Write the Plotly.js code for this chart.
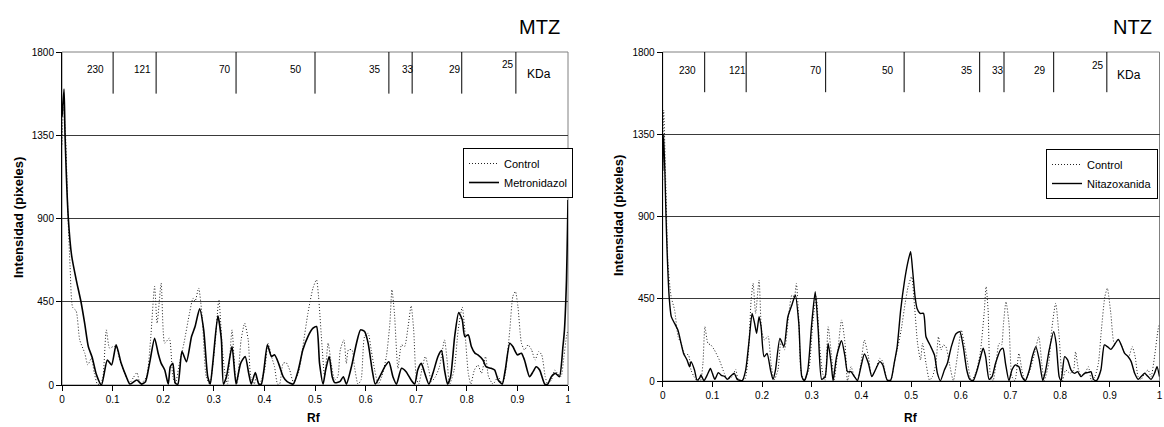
<!DOCTYPE html>
<html><head><meta charset="utf-8">
<script src="https://cdn.plot.ly/plotly-3.0.1.min.js"></script>
<style>html,body{margin:0;padding:0;background:#fff}#chart{width:1164px;height:427px}</style>
</head><body><div id="chart"></div>
<script>
// ---- Data ----
const mtzCtrlRf = [0,0.003,0.007,0.012,0.016,0.021,0.028,0.035,0.045,0.051,0.058,0.064,0.070,0.076,0.081,0.0876,0.094,0.101,0.107,0.114,0.124,0.134,0.141,0.148,0.155,0.167,0.175,0.183,0.188,0.196,0.203,0.212,0.219,0.224,0.232,0.241,0.252,0.259,0.263,0.270,0.277,0.285,0.292,0.302,0.310,0.317,0.322,0.327,0.336,0.342,0.346,0.354,0.361,0.368,0.373,0.380,0.384,0.390,0.4005,0.407,0.414,0.420,0.426,0.430,0.437,0.443,0.450,0.457,0.467,0.476,0.486,0.496,0.503,0.507,0.514,0.519,0.526,0.532,0.539,0.545,0.550,0.557,0.562,0.566,0.573,0.578,0.585,0.591,0.598,0.605,0.611,0.618,0.625,0.632,0.641,0.648,0.652,0.657,0.664,0.671,0.677,0.684,0.690,0.695,0.700,0.705,0.711,0.718,0.725,0.730,0.738,0.746,0.756,0.761,0.766,0.775,0.783,0.791,0.796,0.803,0.808,0.815,0.822,0.829,0.837,0.843,0.852,0.862,0.870,0.876,0.885,0.891,0.896,0.901,0.908,0.914,0.921,0.928,0.935,0.942,0.948,0.955,0.960,0.967,0.974,0.979,0.986,0.992,0.997,1.0];
const mtzCtrlVal = [1300,1500,1350,900,640,420,400,244,172,108,145,63,5,5,45,298,199,208,208,135,63,13,40,67,5,45,244,533,334,551,226,253,45,5,117,226,388,470,452,524,370,45,5,208,461,190,63,5,298,63,5,244,334,244,45,5,45,5,81,226,154,99,5,5,117,121,81,18,63,208,388,524,569,479,208,45,226,117,27,45,190,244,117,190,190,99,5,27,262,280,190,81,5,45,154,334,515,388,90,217,208,316,428,298,45,5,81,154,81,18,45,99,244,135,5,81,298,421,298,63,5,81,108,63,154,45,5,45,5,63,298,479,506,425,226,190,217,190,135,181,163,45,5,27,81,63,45,154,262,298];

const mtzRf = [0,0.004,0.006,0.0125,0.019,0.028,0.0375,0.045,0.052,0.060,0.068,0.078,0.0896,0.098,0.107,0.117,0.127,0.134,0.148,0.157,0.165,0.173,0.183,0.190,0.196,0.203,0.210,0.214,0.219,0.224,0.229,0.237,0.246,0.256,0.263,0.272,0.280,0.288,0.293,0.298,0.308,0.315,0.319,0.325,0.336,0.344,0.353,0.362,0.369,0.374,0.382,0.389,0.394,0.399,0.406,0.414,0.420,0.428,0.437,0.445,0.457,0.467,0.476,0.486,0.496,0.503,0.509,0.516,0.521,0.528,0.534,0.539,0.549,0.556,0.562,0.572,0.582,0.590,0.598,0.605,0.613,0.619,0.628,0.638,0.646,0.654,0.661,0.671,0.680,0.690,0.697,0.703,0.710,0.717,0.725,0.733,0.743,0.750,0.756,0.762,0.768,0.776,0.784,0.791,0.796,0.803,0.809,0.816,0.822,0.832,0.838,0.848,0.855,0.862,0.870,0.876,0.885,0.891,0.900,0.908,0.914,0.924,0.931,0.937,0.944,0.954,0.960,0.967,0.975,0.983,0.990,0.993,0.997,0.999,1.0];
const mtzVal = [1450,1600,1350,900,700,570,450,330,208,146,56,0,135,108,217,117,45,5,27,5,18,117,253,172,117,81,5,99,117,9,5,181,126,262,316,412,298,45,5,117,374,244,5,45,208,5,117,154,63,5,67,5,5,81,217,154,163,117,45,18,5,81,190,262,307,316,117,5,81,154,45,13,18,45,5,99,226,298,289,226,81,5,45,99,126,45,5,90,72,27,5,81,117,63,5,63,154,186,81,5,45,262,392,352,262,271,208,172,163,135,99,90,81,27,5,81,226,208,163,172,135,45,72,99,81,5,5,45,63,45,208,298,569,840,1000];

const ntzCtrlRf = [0,0.002,0.006,0.0106,0.017,0.024,0.031,0.037,0.044,0.052,0.057,0.063,0.069,0.076,0.081,0.085,0.091,0.097,0.104,0.114,0.124,0.130,0.140,0.147,0.152,0.165,0.172,0.178,0.182,0.187,0.194,0.199,0.205,0.212,0.218,0.224,0.232,0.238,0.245,0.254,0.260,0.265,0.269,0.274,0.278,0.284,0.294,0.302,0.309,0.316,0.322,0.327,0.333,0.340,0.345,0.352,0.360,0.367,0.372,0.379,0.386,0.392,0.399,0.406,0.414,0.421,0.428,0.437,0.443,0.452,0.459,0.466,0.472,0.480,0.488,0.494,0.501,0.507,0.513,0.519,0.523,0.530,0.537,0.543,0.550,0.555,0.560,0.565,0.570,0.577,0.585,0.593,0.601,0.608,0.614,0.621,0.630,0.639,0.647,0.651,0.655,0.660,0.665,0.671,0.677,0.682,0.686,0.691,0.697,0.703,0.709,0.717,0.723,0.729,0.737,0.747,0.757,0.763,0.768,0.777,0.783,0.791,0.798,0.805,0.811,0.820,0.827,0.831,0.837,0.843,0.850,0.857,0.863,0.870,0.877,0.883,0.890,0.895,0.902,0.909,0.917,0.923,0.930,0.938,0.945,0.951,0.957,0.963,0.970,0.977,0.983,0.990,0.997,1.0];
const ntzCtrlVal = [1100,1482,1100,643,461,388,242,206,151,142,60,24,2,2,97,297,206,197,170,115,42,9,24,64,9,9,133,443,534,370,552,279,224,246,97,5,60,215,170,370,470,461,534,334,60,2,60,315,461,188,42,5,297,133,5,151,334,206,2,78,24,5,97,224,133,24,60,124,106,5,2,97,170,279,425,516,570,406,206,115,206,97,5,24,97,242,170,197,188,97,2,133,279,188,97,2,42,151,370,516,388,24,2,97,206,197,315,434,315,24,2,151,60,2,42,133,242,97,2,97,279,425,242,2,60,42,60,160,60,24,42,78,2,24,97,279,461,507,370,206,224,197,151,133,188,133,24,9,42,60,24,133,279,315];

const ntzRf = [0,0.002,0.0067,0.009,0.013,0.0173,0.024,0.0306,0.037,0.042,0.049,0.054,0.057,0.064,0.069,0.074,0.077,0.083,0.0905,0.096,0.100,0.105,0.112,0.118,0.125,0.130,0.136,0.144,0.150,0.160,0.167,0.174,0.180,0.185,0.189,0.194,0.198,0.204,0.210,0.217,0.222,0.227,0.236,0.244,0.252,0.260,0.267,0.274,0.280,0.285,0.292,0.300,0.307,0.313,0.320,0.327,0.333,0.339,0.343,0.350,0.360,0.367,0.372,0.379,0.386,0.392,0.399,0.406,0.414,0.421,0.428,0.437,0.443,0.452,0.459,0.466,0.472,0.479,0.487,0.493,0.499,0.503,0.508,0.512,0.518,0.525,0.530,0.538,0.547,0.553,0.559,0.567,0.573,0.581,0.590,0.598,0.605,0.612,0.618,0.625,0.633,0.640,0.645,0.650,0.657,0.663,0.670,0.680,0.685,0.690,0.697,0.703,0.710,0.717,0.723,0.730,0.738,0.744,0.751,0.758,0.765,0.771,0.778,0.787,0.792,0.798,0.802,0.809,0.815,0.822,0.829,0.835,0.842,0.849,0.855,0.862,0.867,0.873,0.882,0.889,0.895,0.902,0.909,0.917,0.923,0.930,0.937,0.943,0.950,0.957,0.963,0.970,0.977,0.983,0.990,0.995,1.0];
const ntzVal = [1150,1350,900,700,460,352,315,279,206,151,115,78,106,60,5,15,33,2,38,69,42,9,46,31,24,9,24,42,9,2,60,224,370,315,261,352,297,133,151,60,9,60,233,188,352,416,470,315,24,2,60,315,489,279,9,24,206,97,2,133,220,133,51,51,24,2,78,148,97,24,60,106,88,5,5,97,188,388,552,644,707,607,461,397,370,370,242,197,142,42,2,60,97,188,257,270,188,60,9,2,60,133,179,133,9,24,97,170,179,97,2,60,88,78,24,2,60,133,188,115,2,60,170,270,206,24,2,133,115,60,42,51,24,42,46,51,9,2,60,197,188,173,197,228,197,151,133,106,42,9,24,42,24,9,42,78,24];

// molecular weight markers (kDa) and their Rf positions
const kdaLabels = ["230","121","70","50","35","33","29","25"];
const mtzMarkerRf = [0.101,0.186,0.344,0.500,0.646,0.692,0.790,0.897];
const mtzLabelRf  = [0.067,0.160,0.322,0.462,0.619,0.684,0.777,0.881];
const ntzMarkerRf = [0.0845,0.168,0.328,0.486,0.638,0.687,0.787,0.894];
const ntzLabelRf  = [0.0505,0.151,0.308,0.454,0.612,0.674,0.760,0.877];
const yTicks = [0,450,900,1350,1800];

// ---- Plot ----
const FONT = "Arial, 'Liberation Sans', sans-serif";
const ctrlLine = {color:'#222', width:1, dash:'1px,2px', shape:'spline', smoothing:0.6};
const solidLine = {color:'#000', width:1.6, shape:'spline', smoothing:0.6};

const traces = [
  {x: mtzCtrlRf, y: mtzCtrlVal, type:'scatter', mode:'lines', name:'Control', line: ctrlLine, xaxis:'x', yaxis:'y', legend:'legend'},
  {x: mtzRf, y: mtzVal, type:'scatter', mode:'lines', name:'Metronidazol', line: solidLine, xaxis:'x', yaxis:'y', legend:'legend'},
  {x: ntzCtrlRf, y: ntzCtrlVal, type:'scatter', mode:'lines', name:'Control', line: ctrlLine, xaxis:'x2', yaxis:'y2', legend:'legend2'},
  {x: ntzRf, y: ntzVal, type:'scatter', mode:'lines', name:'Nitazoxanida', line: {...solidLine, width:1.4}, xaxis:'x2', yaxis:'y2', legend:'legend2'}
];

function xax(domain, anchor){
  return {domain, anchor, range:[0,1], dtick:0.1, tick0:0, showgrid:false, zeroline:false,
    showline:true, linecolor:'#000', linewidth:1, ticks:'outside', ticklen:5, tickcolor:'#000',
    ticklabeloverflow:'allow', automargin:false,
    tickfont:{family:FONT, size:10, color:'#000'}, fixedrange:true};
}
function yax(domain, anchor){
  return {domain, anchor, range:[0,1800], tickvals:yTicks, showgrid:true, gridcolor:'#3a3a3a', gridwidth:1,
    zeroline:false, showline:true, linecolor:'#000', linewidth:1, ticks:'outside', ticklen:5, tickcolor:'#000',
    automargin:false, tickfont:{family:FONT, size:10, color:'#000'}, fixedrange:true};
}

const shapes = [];
const annotations = [];
function addMarkers(xref, yref, markerRf, labelRf, lineBottom, labelY){
  markerRf.forEach(r => shapes.push({type:'line', xref, yref, x0:r, x1:r, y0:lineBottom, y1:1800, line:{color:'#000', width:1}}));
  labelRf.forEach((r,i) => annotations.push({xref, yref, x:r, y: kdaLabels[i]==="25" ? labelY+25 : labelY, text:kdaLabels[i], showarrow:false,
    font:{family:FONT, size:10, color:'#000'}, xanchor:'center', yanchor:'middle'}));
}
addMarkers('x','y', mtzMarkerRf, mtzLabelRf, 1575, 1707);
addMarkers('x2','y2', ntzMarkerRf, ntzLabelRf, 1580, 1701);
annotations.push({xref:'x', yref:'y', x:0.943, y:1680, text:'KDa', showarrow:false, font:{family:FONT,size:12,color:'#000'}});
annotations.push({xref:'x2', yref:'y2', x:0.938, y:1675, text:'KDa', showarrow:false, font:{family:FONT,size:12,color:'#000'}});
// borders of plot areas
shapes.push({type:'rect', xref:'x domain', yref:'y domain', x0:0, x1:1, y0:0, y1:1, line:{color:'#808080', width:1}, layer:'below'});
shapes.push({type:'rect', xref:'x2 domain', yref:'y2 domain', x0:0, x1:1, y0:0, y1:1, line:{color:'#808080', width:1}, layer:'below'});

// titles
annotations.push({xref:'paper', yref:'paper', x:539/1164, y:1-27/427, text:'MTZ', showarrow:false, font:{family:FONT,size:20,color:'#000'}, xanchor:'center', yanchor:'middle'});
annotations.push({xref:'paper', yref:'paper', x:1132/1164, y:1-27/427, text:'NTZ', showarrow:false, font:{family:FONT,size:20,color:'#000'}, xanchor:'center', yanchor:'middle'});
annotations.push({xref:'paper', yref:'paper', x:18/1164, y:1-218/427, text:'<b>Intensidad (pixeles)</b>', textangle:-90, showarrow:false, font:{family:FONT,size:13,color:'#000'}, xanchor:'center', yanchor:'middle'});
annotations.push({xref:'paper', yref:'paper', x:618/1164, y:1-216/427, text:'<b>Intensidad (pixeles)</b>', textangle:-90, showarrow:false, font:{family:FONT,size:13,color:'#000'}, xanchor:'center', yanchor:'middle'});
annotations.push({xref:'paper', yref:'paper', x:314/1164, y:1-418/427, text:'<b>Rf</b>', showarrow:false, font:{family:FONT,size:12,color:'#000'}, xanchor:'center', yanchor:'middle'});
annotations.push({xref:'paper', yref:'paper', x:911/1164, y:1-418/427, text:'<b>Rf</b>', showarrow:false, font:{family:FONT,size:12,color:'#000'}, xanchor:'center', yanchor:'middle'});

const legendStyle = {bgcolor:'#fff', bordercolor:'#000', borderwidth:1, font:{family:FONT, size:11, color:'#000'},
  xanchor:'left', yanchor:'top', tracegroupgap:0, itemwidth:30};

const layout = {
  width:1164, height:427, margin:{l:0,r:0,t:0,b:0}, paper_bgcolor:'#fff', plot_bgcolor:'#fff',
  xaxis: xax([62/1164, 568/1164], 'y'),
  yaxis: yax([1-385/427, 1-52/427], 'x'),
  xaxis2: xax([662.7/1164, 1159.5/1164], 'y2'),
  yaxis2: yax([1-381/427, 1-52/427], 'x2'),
  showlegend:true,
  legend: {...legendStyle, x:463/1164, y:1-148/427},
  legend2: {...legendStyle, x:1046/1164, y:1-149/427},
  shapes, annotations
};

Plotly.newPlot('chart', traces, layout, {staticPlot:true, displayModeBar:false});
</script>
</body></html>
